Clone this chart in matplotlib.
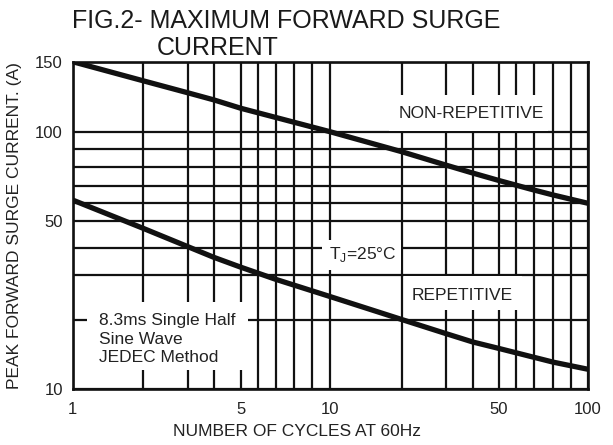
import numpy as np
import matplotlib
matplotlib.use('agg')
import matplotlib.pyplot as plt
from matplotlib.patches import Rectangle
from matplotlib.transforms import Affine2D

W, H = 613, 445
plt.rcParams['font.family'] = ['Liberation Sans', 'DejaVu Sans']

# grid values of the datasheet chart and where they sit (image pixels);
# the printed scale is only roughly logarithmic
x_grid = [1, 2, 3, 4, 5, 6, 7, 8, 9, 10, 20, 30, 40, 50, 60, 70, 80, 90, 100]
x_pix = [72.7, 142.7, 187.7, 214, 241, 258.3, 276, 294.3, 311.7, 330,
         401.7, 445.7, 472.7, 499, 516, 534, 553, 570.7, 588]
y_grid = [10, 20, 30, 40, 50, 60, 70, 80, 90, 100, 150]
y_pix = [389.3, 319.5, 274.5, 247.5, 220.7, 203.3, 185.5, 167.3, 149.3,
         131.7, 61.7]
x_labels = {1: '1', 5: '5', 10: '10', 50: '50', 100: '100'}
y_labels = {10: '10', 50: '50', 100: '100', 150: '150'}

# curves
nonrep_x = [1, 2, 3, 4, 5, 10, 20, 30, 40, 50, 70, 80, 100]
nonrep_y = [150, 134.4, 125.3, 120.2, 114.5, 100, 88.6, 81.2, 76.7, 72.6,
            67.3, 64.5, 60]
rep_x = [1, 2, 3, 4, 5, 6, 7, 10, 20, 30, 40, 50, 80, 100]
rep_y = [61.7, 47.0, 40.3, 36.0, 32.4, 30.4, 28.7, 24.6, 20, 17.4, 16.0,
         15.0, 13.1, 12.2]


def piecewise(v, xp, fp):
    v = np.asarray(v, float)
    out = np.interp(v, xp, fp)
    out = np.where(v < xp[0],
                   fp[0] + (v - xp[0]) * (fp[1] - fp[0]) / (xp[1] - xp[0]), out)
    out = np.where(v > xp[-1],
                   fp[-1] + (v - xp[-1]) * (fp[-1] - fp[-2]) / (xp[-1] - xp[-2]),
                   out)
    return out


def chart_scale(grid, pix):
    lg = np.log10(grid)
    p = np.asarray(pix, float)
    if p[0] > p[-1]:
        p = p[0] - p
    else:
        p = p - p[0]

    def fwd(v):
        v = np.clip(np.asarray(v, float), 1e-6, None)
        return piecewise(np.log10(v), lg, p)

    def inv(q):
        return 10 ** piecewise(q, p, lg)
    return fwd, inv


fig = plt.figure(figsize=(W / 100, H / 100), dpi=100)
px = Affine2D().scale(1 / W, -1 / H).translate(0, 1) + fig.transFigure

left, right = x_pix[0] / W, x_pix[-1] / W
bottom, top = 1 - y_pix[0] / H, 1 - y_pix[-1] / H
ax = fig.add_axes([left, bottom, right - left, top - bottom])

ax.set_xscale('function', functions=chart_scale(x_grid, x_pix))
ax.set_yscale('function', functions=chart_scale(y_grid, y_pix))
ax.set_xlim(1, 100)
ax.set_ylim(10, 150)

ink = '#111111'
ax.set_xticks(x_grid)
ax.set_xticklabels([x_labels.get(v, '') for v in x_grid])
ax.set_yticks(y_grid)
ax.set_yticklabels([y_labels.get(v, '') for v in y_grid])
ax.tick_params(axis='x', length=0, pad=9, labelsize=12, labelcolor='#222222')
ax.tick_params(axis='y', length=0, pad=7, labelsize=12, labelcolor='#222222')
ax.grid(True, color=ink, linewidth=1.6)
for s in ax.spines.values():
    s.set_linewidth(1.9)
    s.set_color(ink)

ax.plot(nonrep_x, nonrep_y, color=ink, linewidth=3.8, zorder=3,
        solid_capstyle='butt')
ax.plot(rep_x, rep_y, color=ink, linewidth=3.8, zorder=3,
        solid_capstyle='butt')

# white label boxes that break the grid (x0, y0, x1, y1 in image pixels)
boxes = [(389, 95, 548, 130.5), (322, 240, 400.5, 270),
         (404, 276, 522, 310), (86.7, 301.7, 248, 370)]
for x0, y0, x1, y1 in boxes:
    ax.add_patch(Rectangle((x0, y0), x1 - x0, y1 - y0, transform=px,
                           facecolor='white', edgecolor='none', zorder=2.5))

tc = '#222222'
ax.text(471, 113, 'NON-REPETITIVE', transform=px, ha='center', va='center',
        fontsize=12.5, color=tc, zorder=4)
ax.text(363, 255, 'T$_\\mathregular{J}$=25°C', transform=px, ha='center',
        va='center', fontsize=12.5, color=tc, zorder=4)
ax.text(462, 295, 'REPETITIVE', transform=px, ha='center', va='center',
        fontsize=12.5, color=tc, zorder=4)
ax.text(99, 339, '8.3ms Single Half\nSine Wave\nJEDEC Method', transform=px,
        ha='left', va='center', fontsize=12.5, color=tc, linespacing=1.25,
        zorder=4)

fig.text(72, 21.5, 'FIG.2- MAXIMUM FORWARD SURGE', transform=px, ha='left',
         va='center', fontsize=18, color='#1a1a1a')
fig.text(157, 48, 'CURRENT', transform=px, ha='left', va='center',
         fontsize=18, color='#1a1a1a')
fig.text(297, 432, 'NUMBER OF CYCLES AT 60Hz', transform=px, ha='center',
         va='center', fontsize=12.5, color=tc)
fig.text(15, 226, 'PEAK FORWARD SURGE CURRENT. (A)', transform=px,
         ha='center', va='center', rotation=90, fontsize=12.5, color=tc)

fig.savefig('out.png', dpi=100, facecolor='white')
